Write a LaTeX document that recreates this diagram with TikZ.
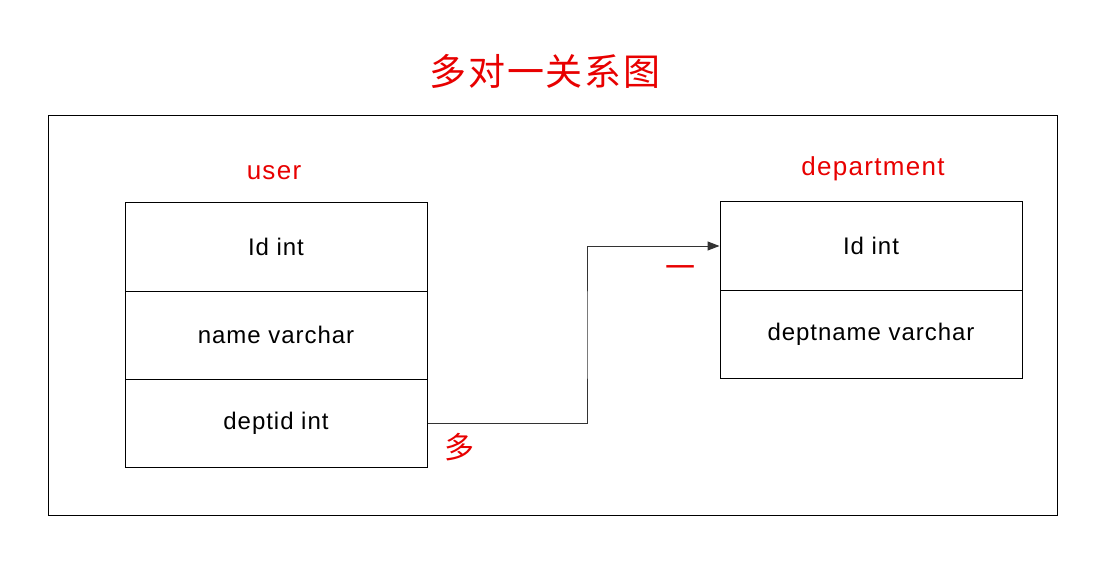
\documentclass[tikz,border=0pt]{standalone}
\usepackage{fontspec}
\setmainfont{Liberation Sans}
\newfontfamily\cellfont[LetterSpace=4]{Liberation Sans}
\newfontfamily\labfont[LetterSpace=5]{Liberation Sans}
\newfontfamily\cjk{Noto Sans CJK SC}
\newfontfamily\cjktitle[LetterSpace=5]{Noto Sans CJK SC}
\usetikzlibrary{arrows.meta}
\definecolor{titlered}{RGB}{232,0,0}
\tikzset{
  cell/.style={draw=black, line width=1pt, minimum width=302pt, minimum height=88pt,
    inner sep=0pt, font=\cellfont\fontsize{24}{28}\selectfont},
  tname/.style={text=titlered, font=\labfont\fontsize{26}{30}\selectfont, inner sep=0pt},
  mult/.style={text=titlered, font=\cjk\fontsize{30}{34}\selectfont, inner sep=0pt},
  frame/.style={draw=black, line width=1pt, minimum width=1009pt, minimum height=399pt, inner sep=0pt},
  link/.style={draw=black!80, line width=1pt, -{Triangle[length=12pt,width=9pt]}}
}
\begin{document}
\begin{tikzpicture}[x=1pt,y=-1pt]
\useasboundingbox[fill=white] (0,0) rectangle (1108,580);
\node[frame] (frame) at (552.5,315.5) {};
\node[text=titlered, font=\cjktitle\fontsize{37}{42}\selectfont, inner sep=0pt] (title) at (545,71) {多对一关系图};
\node[tname] (uname) at (274,173) {user};
\node[tname] (dname) at (873,169) {department};
\node[cell] (u1) at (276,247) {Id int};
\node[cell] (u2) at (276,335) {name varchar};
\node[cell] (u3) at (276,423) {deptid int};
\node[cell] (d1) at (871,246) {Id int};
\node[cell] (d2) at (871,334) {deptname varchar};
\coordinate (bend) at (587,335);
\draw[link] (u3.east) -| (bend) |- (d1.west);
\node[mult] (many) at (459,447) {多};
\node[mult] (one) at (680,272) {一};
\end{tikzpicture}
\end{document}
